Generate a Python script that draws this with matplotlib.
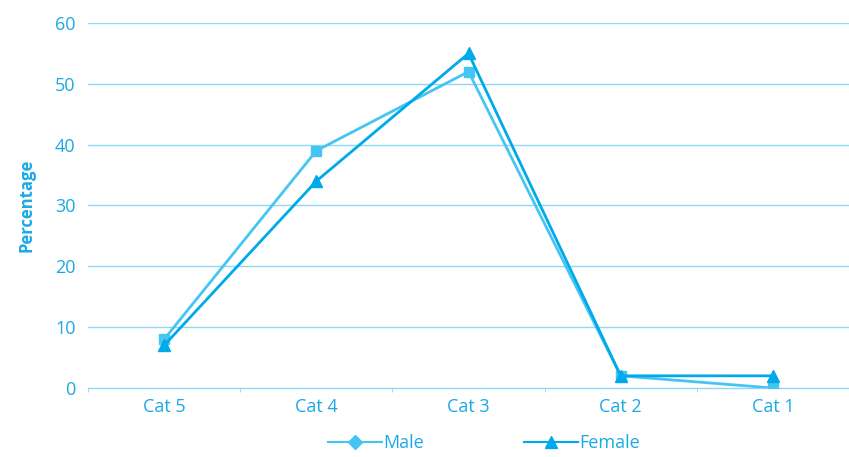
import numpy as np
import matplotlib.pyplot as plt
from matplotlib.lines import Line2D

plt.rcParams['font.family'] = ['Open Sans', 'DejaVu Sans']

categories = ['Cat 5', 'Cat 4', 'Cat 3', 'Cat 2', 'Cat 1']
male = [8, 39, 52, 2, 0]
female = [7, 34, 55, 2, 2]

male_col = '#45c6f2'
female_col = '#00a9e9'
text_col = '#1ba9e6'
grid_col = '#8fd8f5'

fig = plt.figure(figsize=(8.49, 4.57), dpi=100)
ax = fig.add_axes([88/849, 69/457, 1 - 88/849, (388-23)/457])

x = np.arange(len(categories))
ax.plot(x, male, color=male_col, lw=2, marker='s', ms=7, zorder=3)
ax.plot(x, female, color=female_col, lw=2, marker='^', ms=8, zorder=4)

ax.set_xlim(-0.5, 4.5)
ax.set_ylim(0, 60)
ax.set_yticks(range(0, 61, 10))
ax.set_xticks(x)
ax.set_xticklabels(categories)
ax.set_xticks(np.arange(-0.5, 4.6, 1), minor=True)

for y in range(10, 61, 10):
    ax.axhline(y, color=grid_col, lw=1, zorder=1)

for s in ['top', 'right', 'left']:
    ax.spines[s].set_visible(False)
ax.spines['bottom'].set_color(grid_col)
ax.spines['bottom'].set_linewidth(1)

ax.tick_params(axis='y', length=0, pad=9, labelcolor=text_col, labelsize=13)
ax.tick_params(axis='x', which='major', length=0, pad=7, labelcolor=text_col, labelsize=13)
ax.tick_params(axis='x', which='minor', length=3, color=grid_col, direction='out')

ax.set_ylabel('Percentage', color=text_col, fontsize=12, fontweight='bold', labelpad=14)

handles = [
    Line2D([], [], color=male_col, lw=1.5, marker='D', ms=7, label='Male'),
    Line2D([], [], color=female_col, lw=1.5, marker='^', ms=8, label='Female'),
]
leg = fig.legend(handles=handles, loc='lower center', bbox_to_anchor=(0.57, -0.025),
                 ncol=2, frameon=False, fontsize=13, handlelength=3.0,
                 columnspacing=5.5, handletextpad=0.1)
for t in leg.get_texts():
    t.set_color(text_col)

fig.savefig('out.png', dpi=100)
